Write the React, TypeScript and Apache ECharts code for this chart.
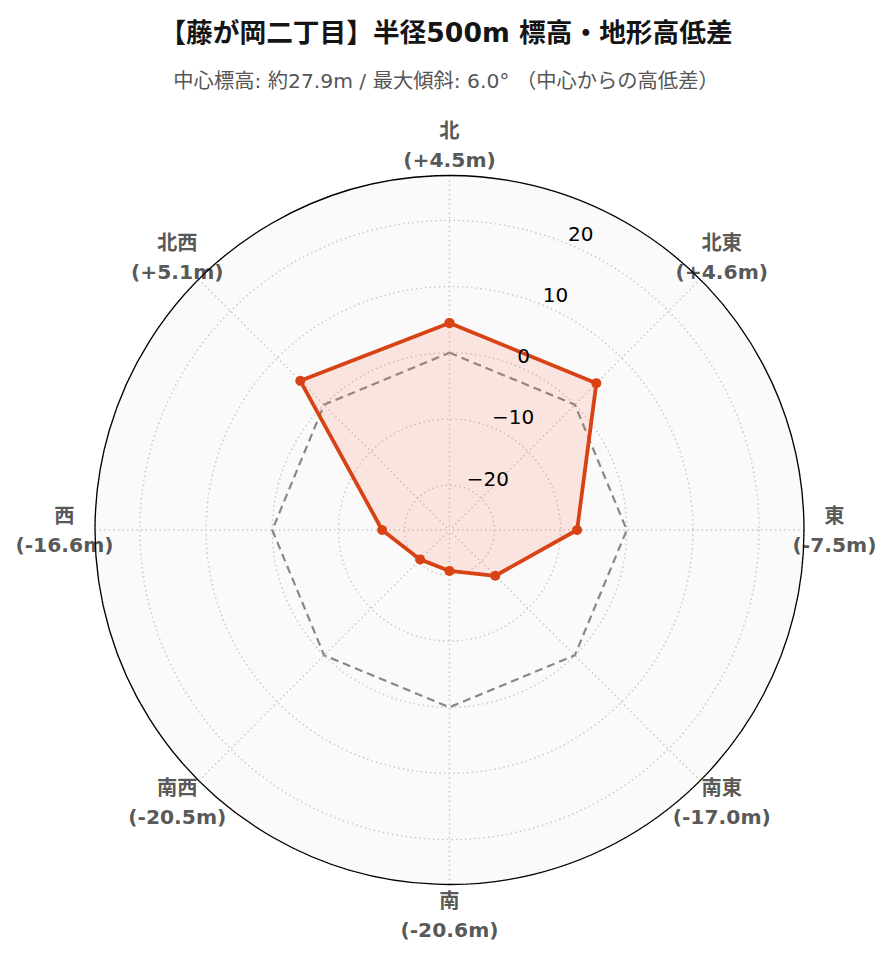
import React, { useEffect, useRef } from 'react';
import * as echarts from 'echarts';

// ---- data ----
const directions = ['北', '北東', '東', '南東', '南', '南西', '西', '北西'];
const directionAngles = [0, 45, 90, 135, 180, 225, 270, 315];
const heightDiffs = [4.5, 4.6, -7.5, -17.0, -20.6, -20.5, -16.6, 5.1];
const referenceLevel = [0, 0, 0, 0, 0, 0, 0, 0];
const radialTicks = [-20, -10, 0, 10, 20];
const radialLimit = 26.78;

const titleText = '【藤が岡二丁目】半径500m 標高・地形高低差';
const subtitleText = '中心標高: 約27.9m / 最大傾斜: 6.0° （中心からの高低差）';

const FONT = "'DejaVu Sans', 'Noto Sans CJK JP', sans-serif";
const CENTER = [449.5, 530];
const RADIUS = 354.5;

const closedRing = (vals: number[]) => [
  ...vals.map((v, i) => [v, directionAngles[i]]),
  [vals[0], 360],
];

const fmtDiff = (v: number) => `(${v >= 0 ? '+' : '-'}${Math.abs(v).toFixed(1)}m)`;

export default function App() {
  const ref = useRef<HTMLDivElement>(null);

  useEffect(() => {
    if (!ref.current) return;
    const chart = echarts.init(ref.current, undefined, { renderer: 'svg' });
    const dotted = { show: true, lineStyle: { color: '#c4c4c4', width: 1.4, type: [1.4, 3.2] as any } };
    const option: any = {
      animation: false,
      backgroundColor: '#ffffff',
      title: [
        {
          text: titleText,
          left: 'center',
          top: 9,
          textStyle: { fontFamily: FONT, fontSize: 26.7, fontWeight: 'bold', color: '#151515', lineHeight: 36 },
        },
        {
          text: subtitleText,
          left: 'center',
          top: 63,
          textStyle: { fontFamily: FONT, fontSize: 20.3, fontWeight: 'normal', color: '#555555', lineHeight: 26 },
        },
      ],
      polar: [
        { center: CENTER, radius: RADIUS },
        { center: CENTER, radius: RADIUS },
        { center: CENTER, radius: 385 },
      ],
      angleAxis: [
        {
          polarIndex: 0,
          type: 'value',
          min: 0,
          max: 360,
          interval: 45,
          startAngle: 90,
          clockwise: true,
          axisLine: { show: true, lineStyle: { color: '#000000', width: 1.3 } },
          axisTick: { show: false },
          axisLabel: { show: false },
          splitLine: dotted,
          z: 3,
        },
        {
          polarIndex: 1,
          type: 'value',
          min: 0,
          max: 360,
          interval: 90,
          startAngle: 67.5,
          clockwise: true,
          axisLine: { show: false },
          axisTick: { show: false },
          axisLabel: { show: false },
          splitLine: { show: false },
          splitArea: { show: true, areaStyle: { color: ['#fafafa'] } },
          z: 0,
        },
        { polarIndex: 2, type: 'value', min: 0, max: 360, startAngle: 90, clockwise: true, show: false },
      ],
      radiusAxis: [
        {
          polarIndex: 0,
          type: 'value',
          min: -radialLimit,
          max: radialLimit,
          axisLine: { show: false },
          axisTick: { show: false },
          axisLabel: { show: false },
          splitLine: dotted,
          z: 2,
        },
        {
          polarIndex: 1,
          type: 'value',
          min: -radialLimit,
          max: radialLimit,
          axisLine: { show: false },
          axisTick: { show: false },
          splitLine: { show: false },
          z: 10,
          axisLabel: {
            show: true,
            margin: 0,
            align: 'left',
            verticalAlign: 'bottom',
            fontSize: 20,
            fontFamily: FONT,
            color: '#000000',
            formatter: (v: number) => {
              const r = Math.round(v * 100) / 100;
              if (!radialTicks.includes(r)) return '';
              return r < 0 ? '\u2212' + Math.abs(r) : String(r);
            },
          },
        },
        { polarIndex: 2, type: 'value', min: 0, max: 1, show: false },
      ],
      series: [
        {
          type: 'line',
          coordinateSystem: 'polar',
          polarIndex: 0,
          data: closedRing(referenceLevel),
          symbol: 'none',
          lineStyle: { color: '#888888', width: 2.2, type: [8, 5] },
          z: 4,
          silent: true,
        },
        {
          type: 'line',
          coordinateSystem: 'polar',
          polarIndex: 0,
          data: closedRing(heightDiffs),
          symbol: 'circle',
          symbolSize: 10,
          showSymbol: true,
          itemStyle: { color: '#d84315' },
          lineStyle: { color: '#d84315', width: 3.8 },
          areaStyle: { color: 'rgba(255,99,71,0.2)', origin: 'start' },
          z: 5,
        },
        {
          type: 'scatter',
          coordinateSystem: 'polar',
          polarIndex: 2,
          data: directionAngles.map((a) => [1, a]),
          symbolSize: 1,
          itemStyle: { color: 'rgba(0,0,0,0)' },
          silent: true,
          label: {
            show: true,
            position: 'inside',
            formatter: (p: any) => `{n|${directions[p.dataIndex]}}\n{v|${fmtDiff(heightDiffs[p.dataIndex])}}`,
            rich: {
              n: { fontFamily: FONT, fontSize: 20.3, fontWeight: 'bold', color: '#2b2b2b', lineHeight: 29 },
              v: { fontFamily: FONT, fontSize: 20.3, fontWeight: 'bold', color: '#2b2b2b', lineHeight: 29 },
            },
          },
        },
      ],
    };
    chart.setOption(option);
    return () => chart.dispose();
  }, []);

  return <div ref={ref} style={{ position: 'fixed', left: 0, top: 0, width: 892, height: 962 }} />;
}
